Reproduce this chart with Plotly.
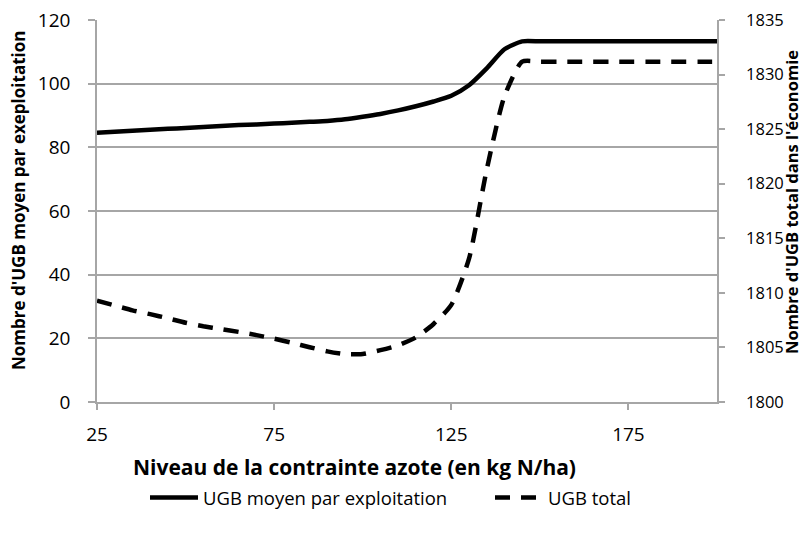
import plotly.graph_objects as go

# Niveau de la contrainte azote (kg N/ha)
niveau = [25, 30, 35, 40, 45, 50, 55, 60, 65, 70, 75, 80, 85, 90, 95, 100,
          105, 110, 115, 120, 125, 130, 135, 140, 145, 150, 155, 160, 165,
          170, 175, 180, 185, 190, 195, 200]

# UGB moyen par exploitation (axe gauche)
ugb_moyen = [84.6, 84.9, 85.2, 85.5, 85.8, 86.1, 86.4, 86.7, 87.0, 87.2,
             87.5, 87.7, 88.0, 88.3, 88.8, 89.6, 90.5, 91.6, 92.9, 94.4,
             96.2, 99.5, 104.8, 110.8, 113.3, 113.3, 113.3, 113.3, 113.3,
             113.3, 113.3, 113.3, 113.3, 113.3, 113.3, 113.3]

# UGB total dans l'économie (axe droit)
ugb_total = [1809.28, 1808.84, 1808.40, 1808.05, 1807.67, 1807.26, 1806.94,
             1806.68, 1806.42, 1806.13, 1805.80, 1805.43, 1805.02, 1804.64,
             1804.38, 1804.40, 1804.75, 1805.19, 1805.92, 1807.15, 1808.90,
             1813.13, 1821.29, 1828.00, 1831.18, 1831.18, 1831.18, 1831.18,
             1831.18, 1831.18, 1831.18, 1831.18, 1831.18, 1831.18, 1831.18,
             1831.18]

x_ticks = [25, 75, 125, 175]
FONT = "Open Sans"
GRID = "#a6a6a6"

# plot area in figure pixels (the page adds an 8px body margin)
L, T, W, H = 89, 12, 620, 382
FIG_W, FIG_H = 800, 534

fig = go.Figure()
fig.add_trace(go.Scatter(
    x=niveau, y=ugb_moyen, name="UGB moyen par exploitation",
    mode="lines", line=dict(color="black", width=4.5, shape="spline", smoothing=0.6),
    yaxis="y", legend="legend"))
fig.add_trace(go.Scatter(
    x=niveau, y=ugb_total, name="UGB total",
    mode="lines", line=dict(color="black", width=4.5, dash="15px,11px",
                            shape="spline", smoothing=0.6),
    yaxis="y2", legend="legend2"))

legend_common = dict(orientation="h", yanchor="middle", y=(T + H - 490) / H,
                     xanchor="left", font=dict(family=FONT, size=18.5),
                     itemwidth=48, bgcolor="rgba(0,0,0,0)")

fig.update_layout(
    width=FIG_W, height=FIG_H,
    margin=dict(l=L, r=FIG_W - L - W, t=T, b=FIG_H - T - H, autoexpand=False),
    paper_bgcolor="white", plot_bgcolor="white",
    font=dict(family=FONT, color="black", size=18),
    showlegend=True,
    legend=dict(x=(137 - L) / W, **legend_common),
    legend2=dict(x=(482 - L) / W, **legend_common),
    xaxis=dict(range=[25, 200], tickvals=x_ticks, ticktext=[str(v) for v in x_ticks],
               showgrid=False, zeroline=False, showline=True, linecolor=GRID, linewidth=1.5,
               ticks="outside", ticklen=6, tickcolor=GRID, tickwidth=1.5, automargin=False,
               ticklabelstandoff=8, tickfont=dict(size=19), ticklabeloverflow="allow"),
    yaxis=dict(range=[0, 120], dtick=20, showgrid=True, gridcolor=GRID, gridwidth=1.5,
               zeroline=False, showline=True, linecolor=GRID, linewidth=1.5, automargin=False,
               ticks="outside", ticklen=7, tickcolor=GRID, tickwidth=1.5,
               ticklabelstandoff=14, tickfont=dict(size=19), ticklabeloverflow="allow"),
    yaxis2=dict(range=[1800, 1835], dtick=5, overlaying="y", side="right",
                showgrid=False, zeroline=False, showline=True, linecolor=GRID, linewidth=1.5,
                ticks="outside", ticklen=6, tickcolor=GRID, tickwidth=1.5, automargin=False,
                ticklabelstandoff=18, tickfont=dict(size=16.5), ticklabeloverflow="allow"),
    annotations=[
        dict(text="<b>Niveau de la contrainte azote (en kg N/ha)</b>", xref="paper", yref="paper",
             x=(346 - L) / W, y=(T + H - 459) / H,
             xanchor="center", yanchor="middle", showarrow=False, font=dict(size=21)),
        dict(text="<b>Nombre d'UGB moyen par exeploitation</b>", xref="paper", yref="paper",
             x=(10 - L) / W, y=(T + H - 193) / H, textangle=-90,
             xanchor="center", yanchor="middle", showarrow=False, font=dict(size=17)),
        dict(text="<b>Nombre d'UGB total dans l'économie</b>", xref="paper", yref="paper",
             x=(783 - L) / W, y=(T + H - 194) / H, textangle=-90,
             xanchor="center", yanchor="middle", showarrow=False, font=dict(size=16.5)),
    ],
)

fig.write_html("out.html")
